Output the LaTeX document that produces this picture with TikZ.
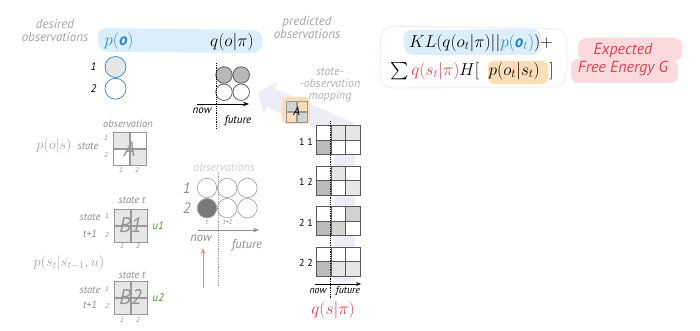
\documentclass[tikz,border=0pt]{standalone}
\usepackage{fontspec}
\usepackage{amsmath}
\usetikzlibrary{positioning,arrows.meta}
\newfontfamily\annfont{PT Sans}
\definecolor{annGray}{HTML}{A4A4A4}
\definecolor{midGray}{HTML}{8E8E8E}
\definecolor{faintGray}{HTML}{CFCFCF}
\definecolor{obsBlue}{HTML}{2B88CF}
\definecolor{skyWash}{HTML}{DCEEF9}
\definecolor{efeRed}{HTML}{E8404E}
\definecolor{pinkWash}{HTML}{FCD9DC}
\definecolor{pinkLine}{HTML}{FDEDEE}
\definecolor{orangeWash}{HTML}{FCDDB8}
\definecolor{uGreen}{HTML}{4E8B3A}
\definecolor{lavWash}{HTML}{EEECF6}
\definecolor{salmon}{HTML}{F0876F}
\definecolor{cellLt}{HTML}{E6E6E6}
\definecolor{cellMd}{HTML}{D2D2D2}
\definecolor{cellDk}{HTML}{BBBBBB}
\definecolor{predGray}{HTML}{B8B8B8}
\tikzset{
  lbl style/.style={font=\annfont\itshape\fontsize{13}{13}\selectfont, text=annGray,
    inner sep=0pt, align=center},
  small style/.style={font=\annfont\itshape\fontsize{10.5}{10.5}\selectfont, text=midGray, inner sep=0pt},
  num style/.style={font=\annfont\itshape\fontsize{7}{7}\selectfont, text=midGray, inner sep=0pt},
  idx style/.style={font=\annfont\itshape\fontsize{11}{11}\selectfont, inner sep=0pt},
  pair style/.style={font=\annfont\fontsize{10}{10}\selectfont, inner sep=0pt, anchor=east},
  tick style/.style={font=\annfont\itshape\fontsize{11}{11}\selectfont, inner sep=0pt},
  dot style/.style={circle, draw=#1, line width=0.7pt, inner sep=0pt},
  cell style/.style={rectangle, draw=gray!80, line width=0.6pt, minimum size=#1,
    inner sep=0pt, anchor=north west},
  mat letter/.style={font=\annfont\itshape\fontsize{21}{21}\selectfont, text=gray!85, inner sep=0pt},
  arr style/.style={-{Stealth[length=6pt]}, thick}
}
\begin{document}
\begin{tikzpicture}[x=1pt, y=-1pt, node distance=3pt]
\useasboundingbox (0,0) rectangle (700,331);

% washes behind the text
\fill[skyWash, rounded corners=9pt] (97,28) -- (262,30) -- (262,53) -- (99,52) -- cycle;
\fill[skyWash, rounded corners=8pt] (403,30) -- (541,29) -- (540,55) -- (405,55) -- cycle;
\fill[orangeWash, rounded corners=6pt] (488,61) rectangle (548,84);
\draw[pinkLine, line width=1.2pt, rounded corners=12pt] (381,26) -- (567,29) -- (566,87) -- (380,88) -- cycle;
\fill[pinkWash, rounded corners=8pt] (578,38) rectangle (682,61);
\fill[pinkWash, rounded corners=8pt] (571,59) rectangle (678,83);
\coordinate (lavtail) at (345,281);
\coordinate (lavbend) at (345,130);
\coordinate (lavtip) at (258,92);
\draw[lavWash, line width=20pt, -{Triangle[length=14pt, width=34pt]}] (lavtail) -- (lavbend) -- (lavtip);

% desired observations
\node[lbl style] (desired) at (55,30) {desired\\observations};
\node[text=obsBlue, font=\fontsize{17}{17}\selectfont, inner sep=0pt] (pobs) at (119,41)
  {$p(\mbox{\annfont\bfseries\itshape o})$};
\node[dot style=obsBlue, minimum size=21pt, fill=cellLt] (des1) at (115.5,67) {};
\node[dot style=obsBlue, minimum size=21pt, below=0pt of des1] (des2) {};
\node[idx style, left=8pt of des1] (des1lbl) {1};
\node[idx style, left=8pt of des2] (des2lbl) {2};

% predicted observations
\node[font=\fontsize{17}{17}\selectfont, inner sep=0pt] (qobs) at (232,42) {$q(o|\pi)$};
\node[lbl style] (predicted) at (307,27) {predicted\\observations};
\node[dot style=black!70, minimum size=16.5pt, fill=predGray] (pr11) at (224,75) {};
\node[dot style=black!70, minimum size=16.5pt, fill=predGray, right=0pt of pr11] (pr12) {};
\node[dot style=black!70, minimum size=16.5pt, below=0pt of pr11] (pr21) {};
\node[dot style=black!70, minimum size=16.5pt, below=0pt of pr12] (pr22) {};
\coordinate (qnowtop) at (216.5,63);
\coordinate (qnowbot) at (216.5,128);
\draw[densely dotted, thick] (qnowtop) -- (qnowbot);
\coordinate (qaxl) at (197,104);
\coordinate (qaxr) at (249,104);
\draw[arr style] (qaxl) -- (qaxr);
\node[tick style] (qnow) at (202,111) {now};
\node[tick style] (qfut) at (238,121) {future};

% expected free energy
\node[font=\fontsize{17}{17}\selectfont, inner sep=0pt] (klterm) at (481,43)
  {$KL(q(o_t|\pi)||{\color{obsBlue}p(\mbox{\annfont\bfseries\itshape o}_t)})+$};
\node[font=\fontsize{17}{17}\selectfont, inner sep=0pt] (hterm) at (472,71)
  {$\sum {\color{efeRed}q(s_t|\pi)}H[\;\;p(o_t|s_t)\;\;]$};
\node[lbl style, text=efeRed, font=\annfont\itshape\fontsize{16}{18}\selectfont] (efe) at (623,60)
  {Expected\\Free Energy G};

% state-observation mapping
\node[lbl style, text=annGray!85, font=\annfont\itshape\fontsize{12}{12}\selectfont] (mapping)
  at (330,85) {state-\\-observation\\mapping};
\fill[orangeWash, rounded corners=5pt] (282,97) rectangle (310,124);
\node[cell style=10pt, fill=cellMd] (m11) at (286,101) {};
\node[cell style=10pt, right=0pt of m11] (m12) {};
\node[cell style=10pt, below=0pt of m11] (m21) {};
\node[cell style=10pt, fill=cellMd, right=0pt of m21] (m22) {};
\node[font=\annfont\itshape\fontsize{12}{12}\selectfont, inner sep=0pt] (mA) at (m11.south east) {A};

% q(s|pi) grids
\foreach \gy/\glab/\fa/\fb/\fc/\fd/\fe/\ff [count=\k] in
  {125/{1 1}/white/cellLt/cellLt/cellDk/white/white,
   165.5/{1 2}/white/cellLt/white/cellDk/white/cellLt,
   206/{2 1}/white/white/cellMd/cellDk/cellMd/white,
   246.5/{2 2}/white/white/white/cellDk/cellLt/cellLt}
{
  \foreach \f [count=\j from 0] in {\fa,\fb,\fc,\fd,\fe,\ff}
    \node[cell style=14.7pt, draw=gray!70!black, fill=\f] (g\k-\j)
      at ({316+mod(\j,3)*14.7},{\gy+int(\j/3)*14.7}) {};
  \node[pair style, left=3pt of g\k-3.north west, yshift=-2pt] (glab\k) {\glab};
}
\coordinate (snowtop) at (330.7,121);
\coordinate (snowbot) at (330.7,298);
\draw[densely dotted, thick] (snowtop) -- (snowbot);
\coordinate (saxl) at (315,284);
\coordinate (saxr) at (361,284);
\draw[-{Stealth[length=5pt]}] (saxl) -- (saxr);
\node[tick style, font=\annfont\itshape\fontsize{10}{10}\selectfont] (snow) at (318,291) {now};
\node[tick style, font=\annfont\itshape\fontsize{10}{10}\selectfont] (sfut) at (348,291) {future};
\node[text=efeRed, font=\fontsize{17}{17}\selectfont, inner sep=0pt] (qs) at (333,310) {$q(s|\pi)$};

% likelihood A
\node[small style] (obslbl) at (128,124) {observation};
\node[cell style=16pt, fill=cellLt] (a11) at (113,132) {};
\node[cell style=16pt, right=0pt of a11] (a12) {};
\node[cell style=16pt, below=0pt of a11] (a21) {};
\node[cell style=16pt, fill=cellLt, right=0pt of a21] (a22) {};
\node[mat letter] (aA) at (a11.south east) {A};
\node[num style] (ar1) at (106,138) {1};
\node[num style] (ar2) at (106,155) {2};
\node[num style] (ac1) at (121,170) {1};
\node[num style] (ac2) at (137,170) {2};
\node[small style] (astate) at (88,146) {state};
\node[text=annGray, font=\fontsize{14}{14}\selectfont, inner sep=0pt] (pos) at (54,146) {$p(o|s)$};

% transitions B1
\node[small style] (b1top) at (132,200) {state t};
\node[cell style=16pt, fill=cellLt] (b11) at (114,209) {};
\node[cell style=16pt, fill=cellLt, right=0pt of b11] (b12) {};
\node[cell style=16pt, fill=cellLt, below=0pt of b11] (b13) {};
\node[cell style=16pt, fill=cellLt, right=0pt of b13] (b14) {};
\node[mat letter] (bB1) at (b11.south east) {B1};
\node[small style, text=uGreen, font=\annfont\itshape\fontsize{11}{11}\selectfont, right=5pt of b12.south east] (u1) {u1};
\node[small style] (b1s) at (90,217) {state};
\node[small style] (b1t) at (90,234) {t+1};
\node[num style] (b1r1) at (107,216) {1};
\node[num style] (b1r2) at (107,235) {2};
\node[num style] (b1c1) at (122,246) {1};
\node[num style] (b1c2) at (138,246) {2};
\node[text=annGray, font=\fontsize{14}{14}\selectfont, inner sep=0pt] (pss) at (69,263) {$p(s_t|s_{t-1},u)$};

% transitions B2
\node[small style] (b2top) at (132,275) {state t};
\node[cell style=16pt, fill=cellLt] (b21) at (114,281) {};
\node[cell style=16pt, fill=cellLt, right=0pt of b21] (b22) {};
\node[cell style=16pt, fill=cellLt, below=0pt of b21] (b23) {};
\node[cell style=16pt, fill=cellLt, right=0pt of b23] (b24) {};
\node[mat letter] (bB2) at (b21.south east) {B2};
\node[small style, text=uGreen, font=\annfont\itshape\fontsize{11}{11}\selectfont, right=5pt of b22.south east] (u2) {u2};
\node[small style] (b2s) at (90,290) {state};
\node[small style] (b2t) at (90,305) {t+1};
\node[num style] (b2r1) at (107,289) {1};
\node[num style] (b2r2) at (107,306) {2};
\node[num style] (b2c1) at (122,320) {1};
\node[num style] (b2c2) at (138,320) {2};

% observations so far
\node[lbl style, text=faintGray, font=\annfont\itshape\fontsize{12}{12}\selectfont] (obsnow) at (224,167) {observations};
\node[dot style=gray!70, minimum size=19.5pt] (o11) at (207,188) {};
\node[dot style=gray!70, minimum size=19.5pt, right=0pt of o11] (o12) {};
\node[dot style=gray!70, minimum size=19.5pt, right=0pt of o12] (o13) {};
\node[dot style=gray!70, minimum size=19.5pt, fill=gray!95!black, below=0pt of o11] (o21) {};
\node[dot style=gray!70, minimum size=19.5pt, below=0pt of o12] (o22) {};
\node[dot style=gray!70, minimum size=19.5pt, below=0pt of o13] (o23) {};
\node[idx style, text=midGray, font=\annfont\itshape\fontsize{15}{15}\selectfont, left=6pt of o11] (o1lbl) {1};
\node[idx style, text=midGray, font=\annfont\itshape\fontsize{15}{15}\selectfont, left=6pt of o21] (o2lbl) {2};
\node[num style] (ot) at (207,222) {t};
\node[num style] (ot1) at (228,222) {t+1};
\coordinate (onowtop) at (218,172);
\coordinate (onowbot) at (218,287);
\draw[densely dotted, gray!80, thick] (onowtop) -- (onowbot);
\coordinate (oaxl) at (198,230);
\coordinate (oaxr) at (259,230);
\draw[-{Stealth[length=6pt]}, thick, gray!90] (oaxl) -- (oaxr);
\node[tick style, text=midGray, font=\annfont\itshape\fontsize{12.5}{12.5}\selectfont] (onow) at (201,238) {now};
\node[tick style, text=midGray, font=\annfont\itshape\fontsize{12.5}{12.5}\selectfont] (ofut) at (247,245) {future};
\coordinate (salbot) at (203,288);
\coordinate (saltop) at (203,248);
\draw[salmon, thick, -{Stealth[length=6pt]}] (salbot) -- (saltop);
\end{tikzpicture}
\end{document}
